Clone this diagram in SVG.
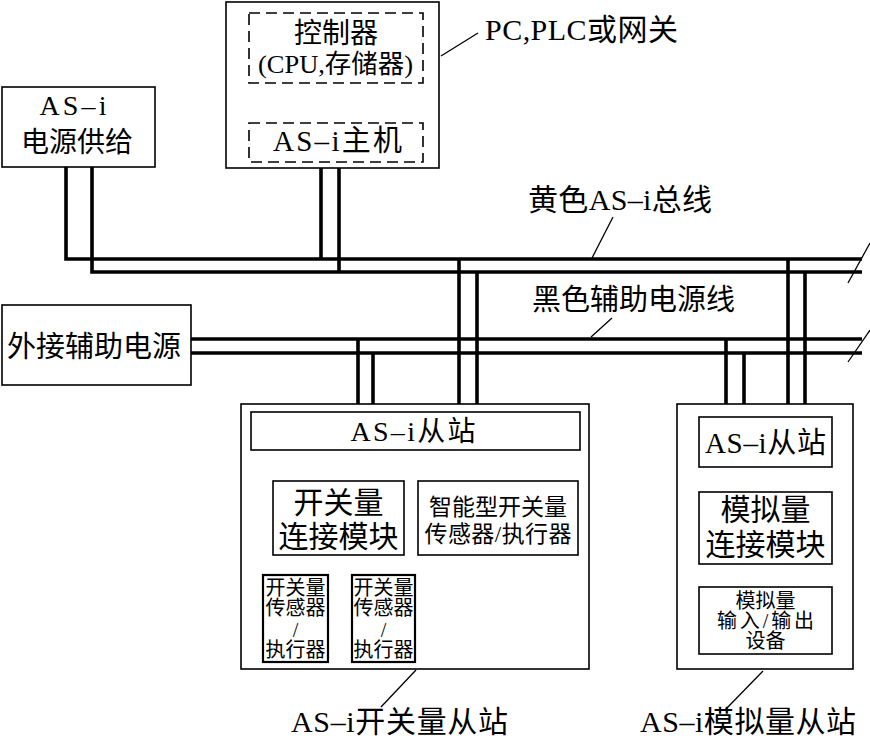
<svg xmlns="http://www.w3.org/2000/svg" width="870" height="739" viewBox="0 0 870 739">
<style>
text{font-family:"Liberation Serif","Noto Sans CJK SC",serif;fill:#000;text-anchor:middle}
.box{fill:#fff;stroke:#000;stroke-width:1.6}
.sbox{fill:#fff;stroke:#000;stroke-width:2.2}
.dash{fill:none;stroke:#000;stroke-width:1.6;stroke-dasharray:11 6}
.bus{fill:none;stroke:#000;stroke-width:3.6}
.thin{fill:none;stroke:#000;stroke-width:1.4}
.lead{fill:none;stroke:#000;stroke-width:1.3}
</style>
<rect width="870" height="739" fill="#fff"/>

<g id="connectors">
  <!-- yellow AS-i bus -->
  <polyline class="bus" points="66,167 66,259 862,259"/>
  <polyline class="bus" points="92,167 92,272 862,272"/>
  <!-- black aux power line -->
  <line class="bus" x1="191" y1="339" x2="862" y2="339"/>
  <line class="bus" x1="191" y1="353" x2="862" y2="353"/>
  <!-- controller drops -->
  <line class="bus" x1="321" y1="168" x2="321" y2="259"/>
  <line class="bus" x1="339" y1="168" x2="339" y2="272"/>
  <!-- left slave drops -->
  <line class="bus" x1="358" y1="339" x2="358" y2="404"/>
  <line class="bus" x1="373" y1="353" x2="373" y2="404"/>
  <line class="bus" x1="459" y1="259" x2="459" y2="404"/>
  <line class="bus" x1="477" y1="272" x2="477" y2="404"/>
  <!-- right slave drops -->
  <line class="bus" x1="726" y1="339" x2="726" y2="404"/>
  <line class="bus" x1="744" y1="353" x2="744" y2="404"/>
  <line class="bus" x1="788" y1="259" x2="788" y2="404"/>
  <line class="bus" x1="805" y1="272" x2="805" y2="404"/>
  <!-- break marks -->
  <line class="lead" x1="870" y1="243" x2="848" y2="283"/>
  <line class="lead" x1="870" y1="330" x2="848" y2="362"/>
  <!-- controller internal links -->
  <line class="thin" x1="289" y1="83" x2="289" y2="123"/>
  <line class="thin" x1="323" y1="83" x2="323" y2="123"/>
  <line class="thin" x1="355" y1="83" x2="355" y2="123"/>
  <line class="thin" x1="386" y1="83" x2="386" y2="123"/>
  <!-- left slave internal links -->
  <line class="thin" x1="311" y1="450" x2="311" y2="481"/>
  <line class="thin" x1="323" y1="450" x2="323" y2="481"/>
  <line class="thin" x1="336" y1="450" x2="336" y2="481"/>
  <line class="thin" x1="348" y1="450" x2="348" y2="481"/>
  <line class="thin" x1="360" y1="450" x2="360" y2="481"/>
  <line class="thin" x1="473" y1="450" x2="473" y2="481"/>
  <line class="thin" x1="485" y1="450" x2="485" y2="481"/>
  <line class="thin" x1="497" y1="450" x2="497" y2="481"/>
  <line class="thin" x1="509" y1="450" x2="509" y2="481"/>
  <line class="thin" x1="522" y1="450" x2="522" y2="481"/>
  <line class="thin" x1="292" y1="555" x2="292" y2="575"/>
  <line class="thin" x1="299" y1="555" x2="299" y2="575"/>
  <line class="thin" x1="379" y1="555" x2="379" y2="575"/>
  <line class="thin" x1="387" y1="555" x2="387" y2="575"/>
  <!-- right slave internal links -->
  <line class="thin" x1="739" y1="467" x2="739" y2="492"/>
  <line class="thin" x1="751" y1="467" x2="751" y2="492"/>
  <line class="thin" x1="763" y1="467" x2="763" y2="492"/>
  <line class="thin" x1="776" y1="467" x2="776" y2="492"/>
  <line class="thin" x1="788" y1="467" x2="788" y2="492"/>
  <line class="thin" x1="752" y1="564" x2="752" y2="587"/>
  <line class="thin" x1="779" y1="564" x2="779" y2="587"/>
  <!-- leader lines -->
  <line class="lead" x1="441" y1="56" x2="478" y2="33"/>
  <line class="lead" x1="613" y1="217" x2="592" y2="258"/>
  <line class="lead" x1="612" y1="318" x2="591" y2="337"/>
  <line class="lead" x1="416" y1="670" x2="381" y2="707"/>
  <line class="lead" x1="763" y1="671" x2="725" y2="710"/>
</g>

<g id="controller">
  <rect class="box" x="226" y="2" width="213" height="166"/>
  <rect class="dash" x="249" y="13" width="174" height="70"/>
  <rect class="dash" x="249" y="123" width="174" height="39"/>
  <text x="336" y="43" font-size="28">控制器</text>
  <text x="335.5" y="73" font-size="26" textLength="155" lengthAdjust="spacingAndGlyphs">(CPU,存储器)</text>
  <text x="337.5" y="151" font-size="29" textLength="129" lengthAdjust="spacing">AS–i主机</text>
</g>
<g id="label-pc">
  <text x="581.5" y="40" font-size="30" textLength="193" lengthAdjust="spacing">PC,PLC或网关</text>
</g>

<g id="asi-power">
  <rect class="box" x="2" y="87" width="153" height="80"/>
  <text x="73" y="115" font-size="28" textLength="67" lengthAdjust="spacing">AS–i</text>
  <text x="77" y="152" font-size="28">电源供给</text>
</g>

<g id="aux-power">
  <rect class="box" x="2" y="305" width="189" height="80"/>
  <text x="94" y="357" font-size="29">外接辅助电源</text>
</g>

<g id="label-yellow">
  <text x="620" y="210" font-size="30" textLength="184" lengthAdjust="spacing">黄色AS–i总线</text>
</g>
<g id="label-black">
  <text x="633.5" y="310" font-size="29">黑色辅助电源线</text>
</g>

<g id="switch-slave">
  <rect class="box" x="241" y="404" width="348" height="265"/>
  <rect class="box" x="251" y="412" width="329" height="38"/>
  <text x="413" y="441" font-size="28" textLength="125" lengthAdjust="spacing">AS–i从站</text>
  <rect class="box" x="273" y="481" width="131" height="74"/>
  <text x="338.5" y="513" font-size="30">开关量</text>
  <text x="338.5" y="547" font-size="30">连接模块</text>
  <rect class="box" x="418" y="481" width="160" height="74"/>
  <text x="498" y="515" font-size="23">智能型开关量</text>
  <text x="498" y="542" font-size="23" textLength="147" lengthAdjust="spacing">传感器/执行器</text>
  <g id="switch-sensor-1">
    <rect class="sbox" x="263" y="575" width="65" height="87"/>
    <text x="295.5" y="595" font-size="20">开关量</text>
    <text x="295.5" y="615" font-size="20">传感器</text>
    <text x="295.5" y="637" font-size="20">/</text>
    <text x="295.5" y="657" font-size="20">执行器</text>
  </g>
  <g id="switch-sensor-2">
    <rect class="sbox" x="352" y="575" width="63" height="87"/>
    <text x="383.5" y="595" font-size="20">开关量</text>
    <text x="383.5" y="615" font-size="20">传感器</text>
    <text x="383.5" y="637" font-size="20">/</text>
    <text x="383.5" y="657" font-size="20">执行器</text>
  </g>
</g>
<g id="label-switch-slave">
  <text x="399.5" y="732" font-size="30" textLength="217" lengthAdjust="spacing">AS–i开关量从站</text>
</g>

<g id="analog-slave">
  <rect class="box" x="677" y="404" width="176" height="265"/>
  <rect class="box" x="699" y="417" width="133" height="50"/>
  <text x="765.5" y="453" font-size="29" textLength="121" lengthAdjust="spacing">AS–i从站</text>
  <rect class="box" x="699" y="492" width="133" height="72"/>
  <text x="765.5" y="520" font-size="30">模拟量</text>
  <text x="765.5" y="555" font-size="30">连接模块</text>
  <rect class="box" x="699" y="587" width="133" height="67"/>
  <text x="765.5" y="608" font-size="20">模拟量</text>
  <text x="765.5" y="628" font-size="20" textLength="97" lengthAdjust="spacing">输入/输出</text>
  <text x="765.5" y="648" font-size="20">设备</text>
</g>
<g id="label-analog-slave">
  <text x="748" y="732" font-size="30" textLength="216" lengthAdjust="spacing">AS–i模拟量从站</text>
</g>
</svg>
